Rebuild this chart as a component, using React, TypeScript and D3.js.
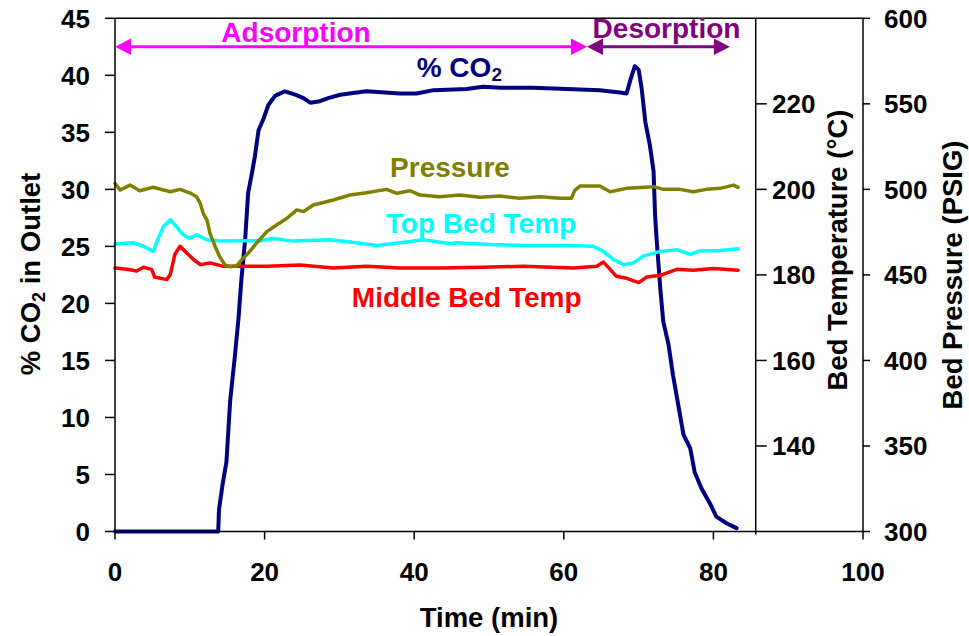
import React from 'react';
import * as d3 from 'd3';

// % CO2 in the outlet gas
const co2Time = [0, 13.8, 13.9, 14.4, 14.9, 15.4, 16.0, 16.5, 16.9, 17.4, 17.8, 18.3, 18.7, 19.2, 19.8, 20.5, 21.4, 22.7, 24.1, 25.2, 26.1, 27.2, 28.5, 30.1, 33.6, 38.1, 40.3, 42.6, 47.0, 49.2, 51.5, 55.9, 60.4, 64.8, 67.5, 68.4, 68.9, 69.5, 70.0, 70.4, 70.9, 71.5, 72.0, 72.2, 72.4, 72.9, 73.3, 74.0, 74.6, 75.3, 76.0, 76.9, 77.5, 78.4, 79.5, 80.4, 81.8, 83.1];
const co2Pct = [0, 0, 1.9, 4.2, 6.1, 11.5, 15.2, 18.6, 22.1, 25.6, 29.7, 31.4, 32.9, 35.2, 36.1, 37.4, 38.2, 38.6, 38.3, 38.0, 37.6, 37.7, 38.0, 38.3, 38.6, 38.4, 38.4, 38.7, 38.8, 39.0, 38.9, 38.9, 38.8, 38.7, 38.5, 38.4, 39.6, 40.8, 40.5, 38.9, 35.9, 33.9, 31.6, 27.8, 25.7, 21.3, 18.4, 16.4, 13.7, 11.1, 8.5, 7.3, 5.2, 3.8, 2.5, 1.3, 0.7, 0.3];

// Bed pressure (PSIG)
const pressTime = [0, 0.7, 2.0, 3.3, 5.1, 7.4, 8.7, 10.0, 10.9, 11.4, 11.8, 12.3, 12.7, 13.4, 14.0, 14.7, 15.4, 16.3, 16.9, 17.8, 18.9, 20.3, 21.6, 23.0, 24.3, 25.2, 26.5, 29.2, 31.4, 33.6, 36.3, 37.7, 39.4, 40.8, 43.4, 46.1, 48.8, 51.5, 54.1, 56.8, 59.5, 61.0, 61.5, 62.2, 64.8, 66.2, 68.4, 72.0, 73.3, 75.5, 77.3, 79.1, 80.9, 82.7, 83.3];
const pressPsig = [503.5, 499.6, 502.5, 499.2, 501.2, 498.6, 500, 498, 495.7, 491.8, 486, 482, 474.3, 466.5, 460.6, 455.8, 454.8, 455.4, 458.7, 462.6, 468.5, 475.3, 479.2, 483.1, 488, 487, 490.9, 493.8, 496.7, 498, 500, 497.7, 499.2, 496.7, 495.7, 496.7, 495.4, 496.1, 494.8, 495.7, 494.8, 494.8, 499.6, 502, 502, 498.6, 500.6, 501.6, 500, 500, 498.6, 500, 500.6, 502.5, 501.2];

// Top bed temperature (°C)
const topTime = [0, 2.5, 3.8, 5.1, 5.8, 6.5, 7.4, 8.2, 9.1, 10.0, 10.9, 12.3, 14.0, 16.7, 19.4, 21.2, 23.8, 28.7, 31.4, 35.0, 38.1, 41.2, 44.8, 45.7, 50.1, 55.0, 60.4, 63.9, 65.3, 66.6, 68.0, 69.3, 70.6, 72.9, 75.1, 76.9, 78.2, 80.9, 83.3];
const topTemp = [187.2, 187.5, 186.7, 185.5, 188.6, 191.3, 192.9, 191.3, 189.4, 188.6, 189.4, 188.2, 187.9, 188.0, 188.0, 188.5, 187.9, 188.2, 187.7, 186.9, 187.5, 188.2, 187.3, 187.5, 187.1, 186.9, 186.9, 186.7, 185.5, 183.6, 182.4, 182.8, 184.4, 185.5, 185.9, 184.8, 185.6, 185.7, 186.1];

// Middle bed temperature (°C)
const midTime = [0, 1.6, 2.9, 3.8, 4.9, 5.3, 6.9, 7.4, 8.0, 8.7, 9.6, 10.5, 11.4, 12.7, 14.5, 20.3, 24.7, 29.2, 33.6, 38.1, 43.4, 49.0, 54.6, 61.3, 64.4, 65.3, 66.2, 67.0, 68.4, 70.0, 71.1, 72.9, 75.1, 77.3, 80.0, 83.3];
const midTemp = [181.6, 181.3, 180.9, 181.8, 181.3, 179.5, 178.9, 180.1, 184.8, 186.7, 185.1, 183.6, 182.4, 182.8, 182.0, 182.0, 182.3, 181.6, 182.0, 181.6, 181.6, 181.8, 182.0, 181.6, 182.0, 183.0, 181.3, 179.7, 179.2, 178.2, 179.5, 179.9, 181.3, 181.1, 181.5, 181.1];

// Cycle phases (min)
const phaseNames = ['Adsorption', 'Desorption'];
const phaseStart = [0, 63.1];
const phaseEnd = [63.1, 82.2];

// Axis ticks
const timeTicks = [0, 20, 40, 60, 80, 100];
const co2Ticks = [0, 5, 10, 15, 20, 25, 30, 35, 40, 45];
const tempTicks = [140, 160, 180, 200, 220];
const pressTicks = [300, 350, 400, 450, 500, 550, 600];

const W = 969;
const H = 636;
const L = 115;
const R = 863;
const T = 18.3;
const B = 531.5;
const TEMP_AXIS_X = 755.7;
const FONT = '"Liberation Sans", Arial, Helvetica, sans-serif';

const NAVY = '#000080';
const OLIVE = '#808000';
const CYAN = '#00FFFF';
const RED = '#FF0000';
const MAGENTA = '#FF00FF';
const PURPLE = '#800080';

function Arrow({ x1, x2, y, color }: { x1: number; x2: number; y: number; color: string }) {
  const hl = 16;
  const hw = 8.3;
  return (
    <g>
      <line x1={x1 + hl - 2} x2={x2 - hl + 2} y1={y} y2={y} stroke={color} strokeWidth={3} />
      <path d={`M${x1},${y}L${x1 + hl},${y - hw}L${x1 + hl},${y + hw}Z`} fill={color} />
      <path d={`M${x2},${y}L${x2 - hl},${y - hw}L${x2 - hl},${y + hw}Z`} fill={color} />
    </g>
  );
}

export default function App() {
  const x = d3.scaleLinear().domain([0, 100]).range([L, R]);
  const yCo2 = d3.scaleLinear().domain([0, 45]).range([B, T]);
  const yTemp = d3.scaleLinear().domain([120, 240]).range([B, T]);
  const yPress = d3.scaleLinear().domain([300, 600]).range([B, T]);

  const path = (ts: number[], vs: number[], y: d3.ScaleLinear<number, number>) =>
    d3
      .line<number>()
      .x((_, i) => x(ts[i]))
      .y((d) => y(d))
      .curve(d3.curveLinear)(vs) || '';

  const arrowY = yCo2(42.5);
  const phaseColors = [MAGENTA, PURPLE];

  return (
    <svg
      width={W}
      height={H}
      viewBox={`0 0 ${W} ${H}`}
      style={{ position: 'absolute', left: 0, top: 0, background: '#fff' }}
      fontFamily={FONT}
      fontWeight="bold"
    >
      <rect x={0} y={0} width={W} height={H} fill="#fff" />

      {/* series */}
      <g fill="none" strokeLinejoin="round" strokeLinecap="round">
        <path d={path(co2Time, co2Pct, yCo2)} stroke={NAVY} strokeWidth={4} />
        <path d={path(midTime, midTemp, yTemp)} stroke={RED} strokeWidth={3.5} />
        <path d={path(topTime, topTemp, yTemp)} stroke={CYAN} strokeWidth={3.5} />
        <path d={path(pressTime, pressPsig, yPress)} stroke={OLIVE} strokeWidth={3.5} />
      </g>

      {/* frame and axes */}
      <g stroke="#000" strokeWidth={1.5} fill="none">
        <line x1={L} x2={R} y1={T} y2={T} />
        <line x1={L} x2={R} y1={B} y2={B} />
        <line x1={L} x2={L} y1={T} y2={B} />
        <line x1={R} x2={R} y1={T} y2={B} />
        <line x1={TEMP_AXIS_X} x2={TEMP_AXIS_X} y1={T} y2={B + 3} />
        {co2Ticks.map((t) => (
          <line key={`c${t}`} x1={L - 10} x2={L} y1={yCo2(t)} y2={yCo2(t)} />
        ))}
        {timeTicks.map((t) => (
          <line key={`t${t}`} x1={x(t)} x2={x(t)} y1={B} y2={B + 8} />
        ))}
        {tempTicks.map((t) => (
          <line key={`m${t}`} x1={TEMP_AXIS_X} x2={TEMP_AXIS_X + 11} y1={yTemp(t)} y2={yTemp(t)} />
        ))}
        {pressTicks.map((t) => (
          <line key={`p${t}`} x1={R} x2={R + 7} y1={yPress(t)} y2={yPress(t)} />
        ))}
      </g>

      {/* tick labels */}
      <g fontSize={26} fill="#000">
        {co2Ticks.map((t) => (
          <text key={`cl${t}`} x={90} y={yCo2(t)} dy="0.36em" textAnchor="end">
            {t}
          </text>
        ))}
        {timeTicks.map((t) => (
          <text key={`tl${t}`} x={x(t)} y={581} textAnchor="middle">
            {t}
          </text>
        ))}
        {tempTicks.map((t) => (
          <text key={`ml${t}`} x={772} y={yTemp(t)} dy="0.36em">
            {t}
          </text>
        ))}
        {pressTicks.map((t) => (
          <text key={`pl${t}`} x={884} y={yPress(t)} dy="0.36em">
            {t}
          </text>
        ))}
      </g>

      {/* axis titles */}
      <g fontSize={27.5} fill="#000">
        <text x={489} y={627} textAnchor="middle">
          Time (min)
        </text>
        <text transform="translate(40,274) rotate(-90)" textAnchor="middle">
          % CO<tspan fontSize={18} dy={5}>2</tspan>
          <tspan dy={-5}> in Outlet</tspan>
        </text>
        <text transform="translate(847,250) rotate(-90)" textAnchor="middle">
          Bed Temperature (°C)
        </text>
        <text transform="translate(962,275) rotate(-90)" textAnchor="middle">
          Bed Pressure (PSIG)
        </text>
      </g>

      {/* phase arrows */}
      {phaseNames.map((n, i) => (
        <Arrow key={n} x1={x(phaseStart[i])} x2={x(phaseEnd[i])} y={arrowY} color={phaseColors[i]} />
      ))}

      {/* annotations */}
      <g fontSize={28}>
        <text x={296} y={42.3} textAnchor="middle" fill={MAGENTA}>
          Adsorption
        </text>
        <text x={666.5} y={37.5} textAnchor="middle" fill={PURPLE}>
          Desorption
        </text>
        <text x={416.7} y={77} fill={NAVY}>
          % CO<tspan fontSize={19} dy={4}>2</tspan>
        </text>
        <text x={450} y={177.3} textAnchor="middle" fill={OLIVE}>
          Pressure
        </text>
        <text x={481} y={232.7} textAnchor="middle" fill={CYAN}>
          Top Bed Temp
        </text>
        <text x={466.7} y={306.7} textAnchor="middle" fill={RED}>
          Middle Bed Temp
        </text>
      </g>
    </svg>
  );
}
